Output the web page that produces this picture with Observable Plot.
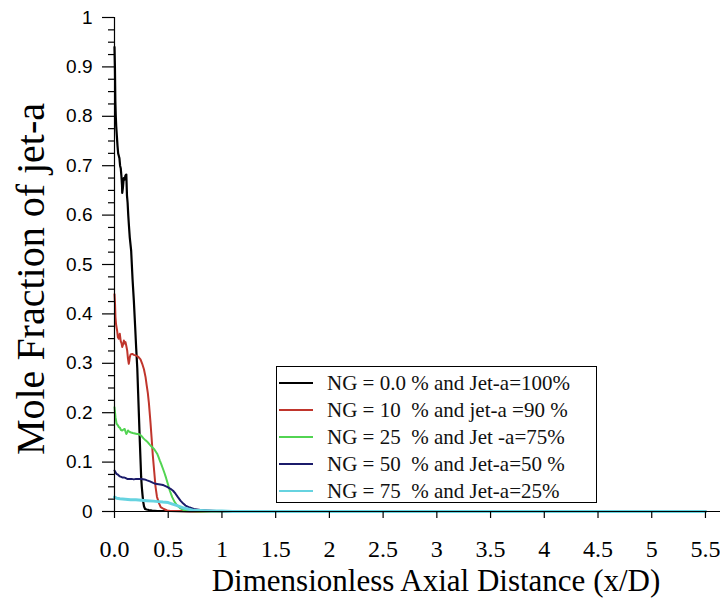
<!DOCTYPE html>
<html>
<head>
<meta charset="utf-8">
<script src="https://cdn.jsdelivr.net/npm/d3@7"></script>
<script src="https://cdn.jsdelivr.net/npm/@observablehq/plot@0.6"></script>
<style>
  html, body { margin: 0; padding: 0; background: #fff; }
  #wrap { position: relative; width: 720px; height: 601px; overflow: hidden; background: #fff; }
  .ytitle { position: absolute; left: 30px; top: 279px; transform: translate(-50%, -50%) rotate(-90deg);
            font-family: "Liberation Serif", "Times New Roman", serif; font-size: 40px; white-space: nowrap; color: #000; }
  .xtitle { position: absolute; left: 436px; top: 580px; transform: translate(-50%, -50%);
            font-family: "Liberation Serif", "Times New Roman", serif; font-size: 31px; line-height: 1; white-space: nowrap; color: #000; }
  .legend { position: absolute; left: 276px; top: 366px; width: 321px; height: 137px; border: 1px solid #000;
            background: #fff; box-sizing: border-box; }
  .legend .row { position: absolute; left: 0; height: 26px; width: 100%;
            font-family: "Liberation Serif", "Times New Roman", serif; font-size: 21px; color: #111; white-space: pre; }
  .legend .sw { position: absolute; left: 2px; width: 34px; top: 50%; height: 2px; margin-top: -1px; }
  .legend .tx { position: absolute; left: 50px; top: 50%; transform: translateY(-50%); line-height: 1; }
</style>
</head>
<body>
<div id="wrap"></div>
<script>
// ---- data ----
const xTicks = [0, 0.5, 1, 1.5, 2, 2.5, 3, 3.5, 4, 4.5, 5, 5.5];
const xTickLabels = ["0.0", "0.5", "1", "1.5", "2", "2.5", "3", "3.5", "4", "4.5", "5", "5.5"];
const yTicks = [0, 0.1, 0.2, 0.3, 0.4, 0.5, 0.6, 0.7, 0.8, 0.9, 1];
const yTickLabels = ["0", "0.1", "0.2", "0.3", "0.4", "0.5", "0.6", "0.7", "0.8", "0.9", "1"];
const yMinorTicks = [0.025,0.05,0.075,0.125,0.15,0.175,0.225,0.25,0.275,0.325,0.35,0.375,0.425,0.45,0.475,
  0.525,0.55,0.575,0.625,0.65,0.675,0.725,0.75,0.775,0.825,0.85,0.875,0.925,0.95,0.975];

const seriesNames = [
  "NG = 0.0 % and Jet-a=100%",
  "NG = 10  % and jet-a =90 %",
  "NG = 25  % and Jet -a=75%",
  "NG = 50  % and Jet-a=50 %",
  "NG = 75  % and Jet-a=25%"
];
const seriesColors = ["#000000", "#c0352c", "#52d452", "#1b1b6a", "#66d3e0"];

const ng0X = [0,0.004,0.008,0.012,0.016,0.022,0.028,0.034,0.04,0.046,0.052,0.058,0.064,0.07,0.072,0.078,0.086,0.094,0.102,0.11,0.116,0.122,0.128,0.134,0.142,0.155,0.168,0.18,0.192,0.202,0.212,0.22,0.228,0.236,0.242,0.248,0.254,0.26,0.267,0.275,0.285,0.3,0.32,0.35,0.4,0.5,0.7,1,5.5];
const ng0Y = [0.94,0.90,0.83,0.80,0.78,0.76,0.74,0.725,0.72,0.715,0.70,0.695,0.68,0.66,0.645,0.655,0.675,0.672,0.68,0.682,0.64,0.625,0.60,0.58,0.555,0.528,0.47,0.427,0.375,0.33,0.29,0.24,0.19,0.14,0.105,0.07,0.05,0.035,0.02,0.01,0.005,0.004,0.003,0.002,0.001,0.001,0,0,0];

const ng10X = [0,0.005,0.009,0.014,0.019,0.025,0.031,0.04,0.049,0.058,0.066,0.072,0.08,0.087,0.095,0.102,0.11,0.118,0.125,0.133,0.138,0.142,0.15,0.165,0.18,0.195,0.21,0.226,0.242,0.258,0.274,0.289,0.3,0.31,0.32,0.335,0.345,0.356,0.37,0.382,0.395,0.412,0.43,0.459,0.49,0.521,0.6,0.8,1,5.5];
const ng10Y = [0.44,0.42,0.393,0.38,0.373,0.365,0.353,0.35,0.36,0.345,0.34,0.333,0.338,0.346,0.34,0.343,0.335,0.326,0.31,0.299,0.305,0.312,0.318,0.319,0.317,0.316,0.315,0.312,0.308,0.299,0.288,0.272,0.255,0.24,0.22,0.18,0.15,0.115,0.08,0.05,0.03,0.018,0.009,0.005,0.002,0.001,0.001,0,0,0];

const ng25X = [0,0.005,0.009,0.014,0.019,0.03,0.04,0.049,0.06,0.072,0.085,0.095,0.102,0.11,0.118,0.126,0.135,0.142,0.155,0.17,0.19,0.21,0.226,0.25,0.27,0.289,0.31,0.33,0.351,0.37,0.385,0.397,0.41,0.422,0.435,0.45,0.465,0.48,0.496,0.515,0.537,0.56,0.584,0.61,0.645,0.7,0.8,1,5.5];
const ng25Y = [0.211,0.2,0.191,0.185,0.178,0.175,0.171,0.17,0.165,0.164,0.166,0.167,0.162,0.157,0.16,0.164,0.162,0.161,0.16,0.159,0.158,0.157,0.157,0.153,0.148,0.144,0.14,0.135,0.13,0.126,0.121,0.117,0.11,0.103,0.096,0.087,0.078,0.068,0.056,0.042,0.029,0.019,0.012,0.007,0.003,0.001,0,0,0];

const ng50X = [0,0.008,0.019,0.03,0.04,0.05,0.062,0.072,0.087,0.1,0.118,0.14,0.16,0.18,0.2,0.226,0.25,0.28,0.304,0.33,0.36,0.382,0.41,0.44,0.459,0.49,0.521,0.545,0.568,0.59,0.614,0.64,0.661,0.7,0.738,0.8,0.863,0.95,1.1,5.5];
const ng50Y = [0.083,0.08,0.076,0.075,0.073,0.071,0.07,0.069,0.069,0.068,0.066,0.066,0.066,0.065,0.066,0.066,0.066,0.065,0.063,0.061,0.058,0.056,0.055,0.054,0.053,0.05,0.046,0.042,0.036,0.029,0.022,0.016,0.012,0.008,0.005,0.003,0.002,0.001,0,0];

const ng75X = [0,0.02,0.05,0.1,0.15,0.2,0.25,0.3,0.36,0.41,0.45,0.5,0.54,0.584,0.62,0.645,0.7,0.738,0.8,0.9,1.0,1.1,5.5];
const ng75Y = [0.029,0.027,0.026,0.025,0.024,0.024,0.023,0.022,0.021,0.02,0.019,0.018,0.015,0.012,0.009,0.007,0.004,0.002,0.002,0.001,0.001,0,0];

const seriesX = [ng0X, ng10X, ng25X, ng50X, ng75X];
const seriesY = [ng0Y, ng10Y, ng25Y, ng50Y, ng75Y];
const seriesWidth = [2.2, 2, 2, 2, 3];

// ---- build ----
const lineMarks = seriesX.map((xs, s) =>
  Plot.line(xs.map((x, i) => ({x, y: seriesY[s][i]})), {
    x: "x", y: "y", stroke: seriesColors[s], strokeWidth: seriesWidth[s], strokeLinejoin: "round"
  })
);

const chart = Plot.plot({
  width: 720,
  height: 601,
  marginLeft: 114,
  marginRight: 0,
  marginTop: 17,
  marginBottom: 90,
  style: { background: "#fff", color: "#000" },
  x: { domain: [0, 5.64] },
  y: { domain: [0, 1] },
  marks: [
    ...lineMarks,
    Plot.ruleY([0], { stroke: "#000", strokeWidth: 1.2 }),
    Plot.ruleX([0], { stroke: "#000", strokeWidth: 1.2 }),
    Plot.axisX({ ticks: xTicks, tickFormat: (d) => xTickLabels[xTicks.indexOf(d)], tickSize: 7, tickPadding: 21,
      fontSize: 24, fontFamily: "Liberation Serif, Times New Roman, serif", label: null, strokeWidth: 1.2 }),
    Plot.axisY({ ticks: yTicks, tickFormat: (d) => yTickLabels[yTicks.indexOf(d)], tickSize: 12, tickPadding: 10,
      fontSize: 19, fontFamily: "Liberation Sans, Arial, sans-serif", label: null, strokeWidth: 1.2 }),
    Plot.axisY({ ticks: yMinorTicks, tickFormat: () => "", tickSize: 6, label: null, strokeWidth: 1.2 })
  ]
});

const wrap = document.getElementById("wrap");
wrap.appendChild(chart);

const yt = document.createElement("div");
yt.className = "ytitle"; yt.textContent = "Mole Fraction of jet-a";
wrap.appendChild(yt);
const xt = document.createElement("div");
xt.className = "xtitle"; xt.textContent = "Dimensionless Axial Distance (x/D)";
wrap.appendChild(xt);

const lg = document.createElement("div");
lg.className = "legend";
seriesNames.forEach((name, i) => {
  const row = document.createElement("div");
  row.className = "row";
  row.style.top = (3 + i * 27) + "px";
  const sw = document.createElement("div");
  sw.className = "sw"; sw.style.background = seriesColors[i];
  const tx = document.createElement("div");
  tx.className = "tx"; tx.textContent = name;
  row.appendChild(sw); row.appendChild(tx);
  lg.appendChild(row);
});
wrap.appendChild(lg);
</script>
</body>
</html>
